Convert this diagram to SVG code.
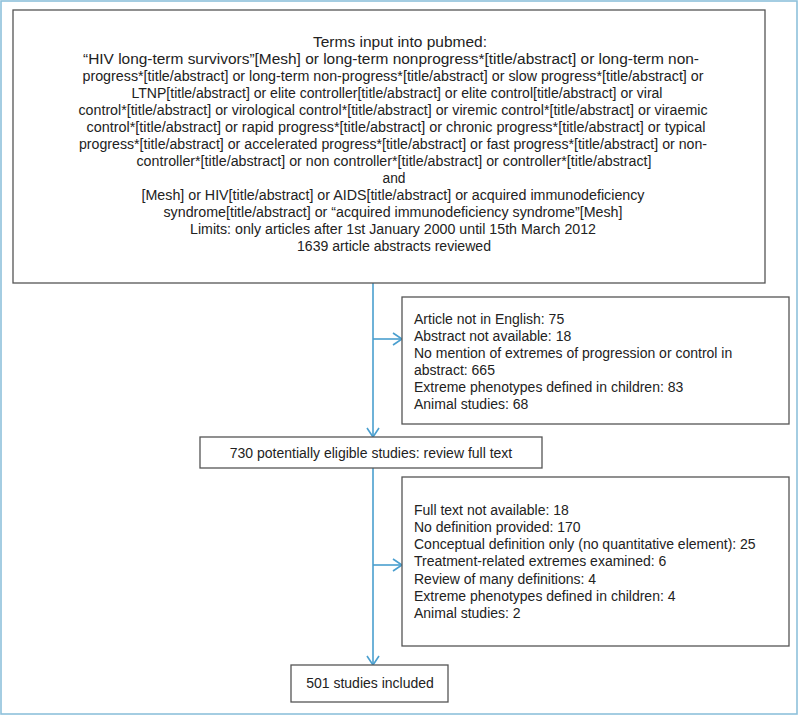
<svg xmlns="http://www.w3.org/2000/svg" width="800" height="716" viewBox="0 0 800 716">
<defs>
<style>
.box{fill:#ffffff;stroke:#555555;stroke-width:1.3}
.t{font-family:"Liberation Sans",Arial,Helvetica,sans-serif;font-size:15.5px;fill:#222222}
.c{text-anchor:middle}
.r{font-family:"Liberation Sans",Arial,Helvetica,sans-serif;font-size:14px;fill:#222222}
.conn{stroke:#4a9fcf;stroke-width:1.6;fill:none}
</style>
<marker id="arr" markerWidth="12" markerHeight="14" refX="10" refY="7" orient="auto" markerUnits="userSpaceOnUse">
<path d="M1,1 L10,7 L1,13" fill="none" stroke="#4a9fcf" stroke-width="1.6"/>
</marker>
</defs>
<rect x="0" y="0" width="800" height="716" fill="#ffffff"/>
<rect x="1" y="1" width="796" height="713" fill="none" stroke="#8ec1db" stroke-width="1.6"/>
<g id="connectors">
<line class="conn" x1="373" y1="283" x2="373" y2="437" marker-end="url(#arr)"/>
<line class="conn" x1="373" y1="339" x2="402" y2="339" marker-end="url(#arr)"/>
<line class="conn" x1="373" y1="468" x2="373" y2="665" marker-end="url(#arr)"/>
<line class="conn" x1="373" y1="565" x2="402" y2="565" marker-end="url(#arr)"/>
</g>
<g id="search">
<rect class="box" x="13" y="10" width="752" height="273"/>
<text class="t c" x="400" y="47" textLength="174" lengthAdjust="spacingAndGlyphs">Terms input into pubmed:</text>
<text class="t c" x="391" y="64" textLength="616" lengthAdjust="spacingAndGlyphs">“HIV long-term survivors”[Mesh] or long-term nonprogress*[title/abstract] or long-term non-</text>
<text class="t c" x="393" y="81" textLength="621" lengthAdjust="spacingAndGlyphs">progress*[title/abstract] or long-term non-progress*[title/abstract] or slow progress*[title/abstract] or</text>
<text class="t c" x="397" y="98" textLength="531" lengthAdjust="spacingAndGlyphs">LTNP[title/abstract] or elite controller[title/abstract] or elite control[title/abstract] or viral</text>
<text class="t c" x="393" y="115" textLength="629" lengthAdjust="spacingAndGlyphs">control*[title/abstract] or virological control*[title/abstract] or viremic control*[title/abstract] or viraemic</text>
<text class="t c" x="396" y="132" textLength="619" lengthAdjust="spacingAndGlyphs">control*[title/abstract] or rapid progress*[title/abstract] or chronic progress*[title/abstract] or typical</text>
<text class="t c" x="393" y="149" textLength="628" lengthAdjust="spacingAndGlyphs">progress*[title/abstract] or accelerated progress*[title/abstract] or fast progress*[title/abstract] or non-</text>
<text class="t c" x="394" y="166" textLength="515" lengthAdjust="spacingAndGlyphs">controller*[title/abstract] or non controller*[title/abstract] or controller*[title/abstract]</text>
<text class="t c" x="394" y="183" textLength="23" lengthAdjust="spacingAndGlyphs">and</text>
<text class="t c" x="393" y="200" textLength="503" lengthAdjust="spacingAndGlyphs">[Mesh] or HIV[title/abstract] or AIDS[title/abstract] or acquired immunodeficiency</text>
<text class="t c" x="393" y="217" textLength="459" lengthAdjust="spacingAndGlyphs">syndrome[title/abstract] or “acquired immunodeficiency syndrome”[Mesh]</text>
<text class="t c" x="393" y="234" textLength="406" lengthAdjust="spacingAndGlyphs">Limits: only articles after 1st January 2000 until 15th March 2012</text>
<text class="t c" x="394" y="251" textLength="194" lengthAdjust="spacingAndGlyphs">1639 article abstracts reviewed</text>
</g>
<g id="excluded1">
<rect class="box" x="402" y="297" width="387" height="127"/>
<text class="r" x="414" y="324">Article not in English: 75</text>
<text class="r" x="414" y="341">Abstract not available: 18</text>
<text class="r" x="414" y="358">No mention of extremes of progression or control in</text>
<text class="r" x="414" y="375">abstract: 665</text>
<text class="r" x="414" y="392">Extreme phenotypes defined in children: 83</text>
<text class="r" x="414" y="409">Animal studies: 68</text>
</g>
<g id="eligible">
<rect class="box" x="200" y="437" width="342" height="31"/>
<text class="r c" x="371" y="458">730 potentially eligible studies: review full text</text>
</g>
<g id="excluded2">
<rect class="box" x="402" y="477" width="387" height="169"/>
<text class="r" x="414" y="515">Full text not available: 18</text>
<text class="r" x="414" y="532">No definition provided: 170</text>
<text class="r" x="414" y="549">Conceptual definition only (no quantitative element): 25</text>
<text class="r" x="414" y="566">Treatment-related extremes examined: 6</text>
<text class="r" x="414" y="584">Review of many definitions: 4</text>
<text class="r" x="414" y="601">Extreme phenotypes defined in children: 4</text>
<text class="r" x="414" y="618">Animal studies: 2</text>
</g>
<g id="included">
<rect class="box" x="291" y="665" width="157" height="37"/>
<text class="r c" x="370" y="688">501 studies included</text>
</g>
</svg>
